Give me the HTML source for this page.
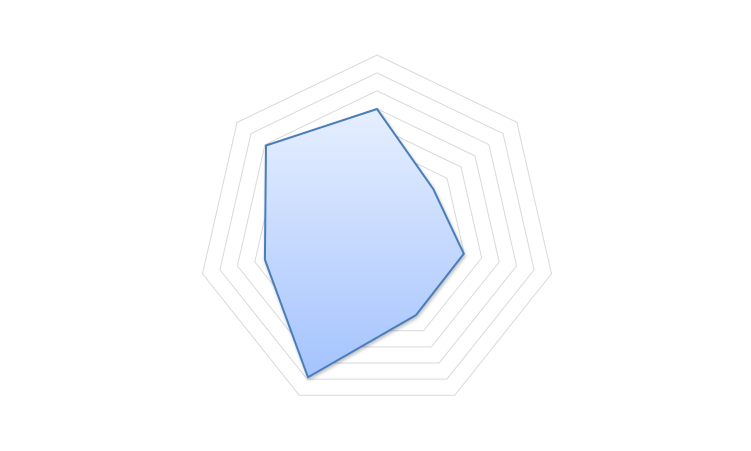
<!DOCTYPE html>
<html><head><meta charset="utf-8"><style>html,body{margin:0;padding:0;background:#fff;width:751px;height:451px;overflow:hidden}</style></head>
<body>
<svg id="s" width="751" height="451" xmlns="http://www.w3.org/2000/svg">
<defs>
<linearGradient id="g" x1="0" y1="0" x2="0" y2="1">
<stop offset="0" stop-color="#e6efff"/><stop offset="1" stop-color="#a4c3fd"/>
</linearGradient>
<filter id="sh" x="-10%" y="-10%" width="130%" height="130%"><feDropShadow dx="1" dy="2" stdDeviation="1.5" flood-color="#000" flood-opacity="0.25"/></filter>
</defs>
<g id="rings" fill="none" stroke="#d9d9d9" stroke-width="1"></g>
<polygon id="data" fill="url(#g)" stroke="#4a7ebb" stroke-width="2" stroke-linejoin="round" filter="url(#sh)"/>
</svg>
<script>
var cx=377,cy=234,R=179,ns="http://www.w3.org/2000/svg";
function pt(k,r){var a=(-90+k*360/7)*Math.PI/180;return (cx+r*Math.cos(a)).toFixed(1)+","+(cy+r*Math.sin(a)).toFixed(1);}
var g=document.getElementById("rings");
for(var i=1;i<=10;i++){var r=R*i/10,p=[];for(var k=0;k<7;k++)p.push(pt(k,r));
var e=document.createElementNS(ns,"polygon");e.setAttribute("points",p.join(" "));g.appendChild(e);}
var d=[125,72,89,90,159,115,142],p=[];
for(var k=0;k<7;k++)p.push(pt(k,d[k]));
document.getElementById("data").setAttribute("points",p.join(" "));
</script>
</body></html>
